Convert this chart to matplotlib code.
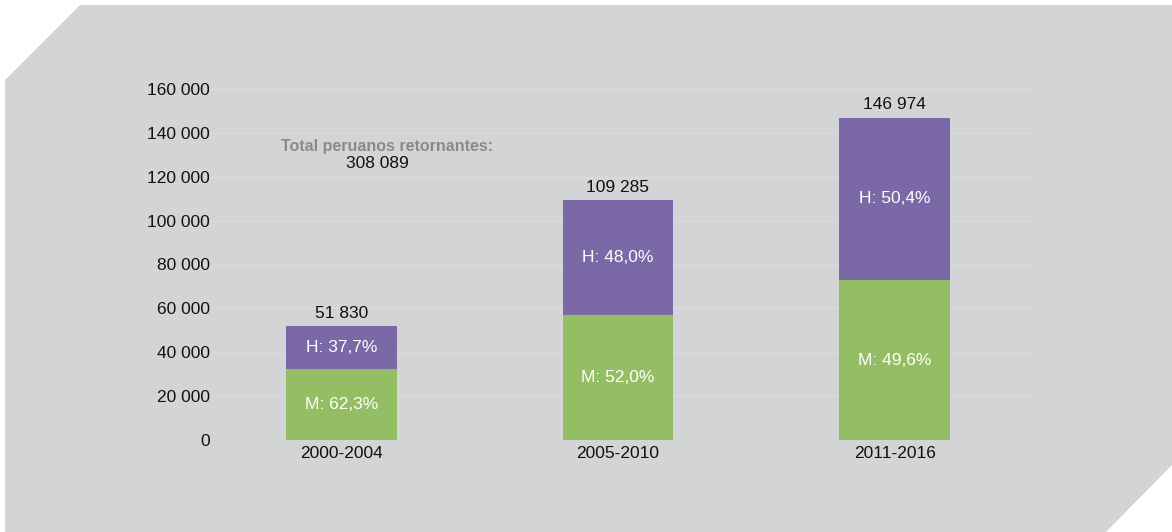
import numpy as np
import matplotlib
matplotlib.use("Agg")
import matplotlib.pyplot as plt
from matplotlib.patches import Polygon

plt.rcParams['font.family'] = ['Liberation Sans', 'DejaVu Sans']

periods = ["2000-2004", "2005-2010", "2011-2016"]
totals = [51830, 109285, 146974]
pct_m = [62.3, 52.0, 49.6]
pct_h = [37.7, 48.0, 50.4]
total_label = "308 089"
yticks = [0, 20000, 40000, 60000, 80000, 100000, 120000, 140000, 160000]

green = "#94be64"
purple = "#7b68a6"
bg = "#d3d4d6"
fs = 12.5

W, H = 1172, 532
fig = plt.figure(figsize=(W / 100, H / 100), dpi=100)
fig.patch.set_facecolor("white")

# gray panel with cut corners (pixel coords -> figure fraction)
pts = [(80, 5), (1172, 5), (1172, 465), (1106, 532), (5, 532), (5, 80)]
poly = Polygon([(x / W, 1 - y / H) for x, y in pts], closed=True,
               transform=fig.transFigure, facecolor=bg, edgecolor="none", zorder=-5)
fig.patches.append(poly)

ax = fig.add_axes([203 / W, 1 - 440 / H, 830 / W, 351 / H])
ax.set_facecolor("none")
ax.set_zorder(2)

x = np.arange(len(periods))
m_vals = [t * p / 100 for t, p in zip(totals, pct_m)]
h_vals = [t - m for t, m in zip(totals, m_vals)]

ax.bar(x, m_vals, width=0.4, color=green, zorder=3)
ax.bar(x, h_vals, width=0.4, bottom=m_vals, color=purple, zorder=3)

def fmt(v):
    return f"{v:,}".replace(",", " ")

for i in range(len(periods)):
    ax.text(x[i], m_vals[i] / 2, f"M: {pct_m[i]:.1f}%".replace(".", ","),
            ha="center", va="center", color="white", fontsize=fs, zorder=4)
    ax.text(x[i], m_vals[i] + h_vals[i] / 2, f"H: {pct_h[i]:.1f}%".replace(".", ","),
            ha="center", va="center", color="white", fontsize=fs, zorder=4)
    ax.text(x[i], totals[i] + 2500, fmt(totals[i]), ha="center", va="bottom",
            color="#111111", fontsize=fs, zorder=4)

ax.text(0.165, 134000, "Total peruanos retornantes:", ha="center", va="center",
        color="#8a8a8d", fontsize=11.5, fontweight="bold")
ax.text(0.13, 126000, total_label, ha="center", va="center",
        color="#111111", fontsize=fs)

ax.set_xlim(-0.5, 2.5)
ax.set_ylim(0, 160000)
ax.set_yticks(yticks)
ax.set_yticklabels([fmt(v) for v in yticks], fontsize=fs, color="#111111")
ax.set_xticks(x)
ax.set_xticklabels(periods, fontsize=fs, color="#111111")
ax.tick_params(axis="y", length=0, pad=-5)
ax.tick_params(axis="x", length=0, pad=4)
ax.yaxis.grid(True, color="#dadadc", linewidth=1, zorder=1)
ax.set_axisbelow(True)
for s in ax.spines.values():
    s.set_visible(False)

fig.savefig("out.png", dpi=100, facecolor=fig.get_facecolor())
